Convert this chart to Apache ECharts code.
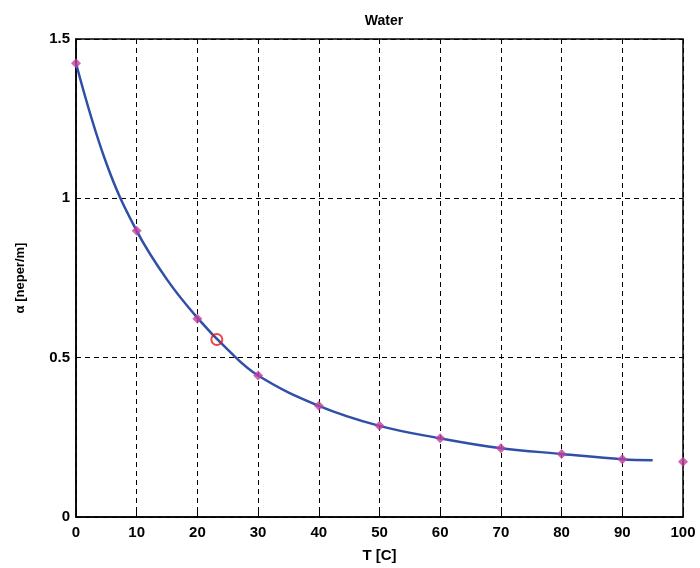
<!DOCTYPE html>
<html>
<head>
<meta charset="utf-8">
<script src="https://cdn.jsdelivr.net/npm/echarts@6/dist/echarts.min.js"></script>
<style>html,body{margin:0;padding:0;background:#fff}#c{width:700px;height:568px}</style>
</head>
<body>
<div id="c"></div>
<script>
// measured points (magenta diamonds)
var pointT = [0, 10, 20, 30, 40, 50, 60, 70, 80, 90, 100];
var pointAlpha = [1.424, 0.898, 0.622, 0.444, 0.349, 0.286, 0.247, 0.216, 0.198, 0.181, 0.173];
// fitted curve (blue line)
var curveT = [0, 5, 10, 15, 20, 25, 30, 40, 50, 60, 70, 80, 90, 95];
var curveAlpha = [1.424, 1.11, 0.898, 0.745, 0.625, 0.525, 0.444, 0.349, 0.286, 0.247, 0.216, 0.198, 0.181, 0.178];
// highlighted point (red circle)
var markT = [23.2];
var markAlpha = [0.557];
var xTicks = [0, 10, 20, 30, 40, 50, 60, 70, 80, 90, 100];
var yTicks = [0, 0.5, 1, 1.5];

var FONT = "'Liberation Sans Narrow','Arial Narrow','Liberation Sans',Arial,sans-serif";
function zip(a, b) { return a.map(function (v, i) { return [v, b[i]]; }); }

var chart = echarts.init(document.getElementById('c'), null, {renderer: 'canvas'});
chart.setOption({
  animation: false,
  backgroundColor: '#fff',
  title: {
    text: 'Water', left: 379, top: 9, textAlign: 'center',
    textStyle: {fontFamily: FONT, fontWeight: 'bold', fontSize: 14, color: '#000'}
  },
  grid: {left: 76, right: 17, top: 39, bottom: 50, show: true, borderColor: '#000', borderWidth: 1.5, backgroundColor: 'transparent'},
  xAxis: {
    type: 'value', min: 0, max: 100, interval: 10,
    name: 'T [C]', nameLocation: 'middle', nameGap: 31,
    nameTextStyle: {fontFamily: FONT, fontWeight: 'bold', fontSize: 15, color: '#000'},
    axisLine: {show: true, onZero: false, lineStyle: {color: '#000', width: 1.5}},
    axisTick: {show: true, inside: true, length: 5, lineStyle: {color: '#000'}},
    axisLabel: {fontFamily: FONT, fontWeight: 'bold', fontSize: 15, color: '#000', margin: 8,
      formatter: function (v) { return xTicks.indexOf(v) >= 0 ? String(v) : ''; }},
    splitLine: {show: true, lineStyle: {color: '#000', type: [5, 4], width: 1}}
  },
  yAxis: {
    type: 'value', min: 0, max: 1.5, interval: 0.5,
    name: 'α [neper/m]', nameLocation: 'middle', nameGap: 49,
    nameTextStyle: {fontFamily: FONT, fontWeight: 'bold', fontSize: 13, color: '#000'},
    axisLine: {show: true, onZero: false, lineStyle: {color: '#000', width: 1.5}},
    axisTick: {show: true, inside: true, length: 5, lineStyle: {color: '#000'}},
    axisLabel: {fontFamily: FONT, fontWeight: 'bold', fontSize: 15, color: '#000', margin: 6,
      formatter: function (v) { return yTicks.indexOf(v) >= 0 ? String(v) : ''; }},
    splitLine: {show: true, lineStyle: {color: '#000', type: [5, 4], width: 1}}
  },
  series: [
    {
      type: 'line', data: zip(curveT, curveAlpha), smooth: 0.4, showSymbol: false, symbol: 'none',
      lineStyle: {color: '#3050a8', width: 2.5}, z: 2
    },
    {
      type: 'scatter', data: zip(pointT, pointAlpha), symbol: 'diamond', symbolSize: 10,
      itemStyle: {color: '#c0409f'}, z: 3
    },
    {
      type: 'scatter', data: zip(markT, markAlpha), symbol: 'circle', symbolSize: 11,
      itemStyle: {color: 'transparent', borderColor: '#e8141c', borderWidth: 2}, z: 4
    }
  ]
});
</script>
</body>
</html>
